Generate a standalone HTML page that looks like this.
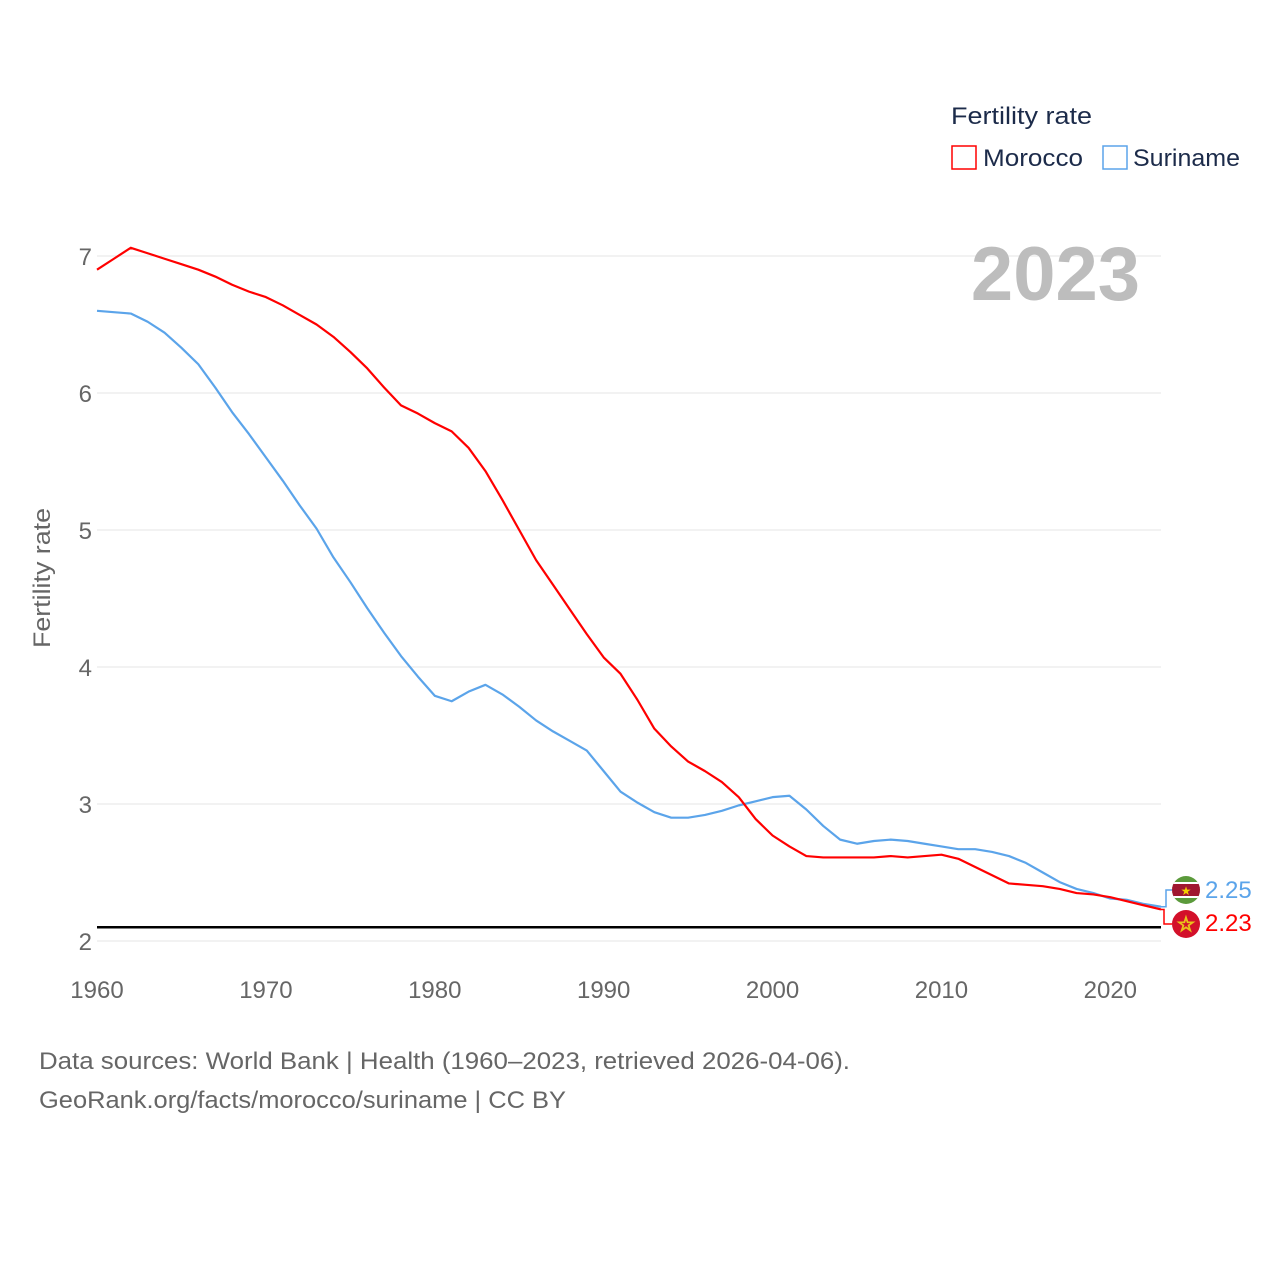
<!DOCTYPE html>
<html><head><meta charset="utf-8"><style>
body{margin:0;background:#fff;font-family:"Liberation Sans",sans-serif;}
svg text{font-family:"Liberation Sans",sans-serif;}
</style></head><body>
<svg width="1280" height="1280" xmlns="http://www.w3.org/2000/svg">
<g id="grid"></g>
<g id="yticks"></g>
<g id="xticks"></g>
<text x="50" y="578" font-size="24" fill="#666" text-anchor="middle" textLength="140" lengthAdjust="spacingAndGlyphs" transform="rotate(-90 50 578)">Fertility rate</text>
<text x="1140" y="300" font-size="76" font-weight="bold" fill="#bdbdbd" text-anchor="end">2023</text>
<g id="series"></g>
<g>
<text x="951" y="124" font-size="24" fill="#1c2b4a" textLength="141" lengthAdjust="spacingAndGlyphs">Fertility rate</text>
<g><rect x="952" y="146" width="24" height="23" fill="none" stroke="#ff0000" stroke-width="1.5"/><text x="983" y="166" font-size="24" fill="#1c2b4a" textLength="100" lengthAdjust="spacingAndGlyphs">Morocco</text></g>
<g><rect x="1103" y="146" width="24" height="23" fill="none" stroke="#5ba4ea" stroke-width="1.5"/><text x="1133" y="166" font-size="24" fill="#1c2b4a" textLength="107" lengthAdjust="spacingAndGlyphs">Suriname</text></g>
</g>
<g id="endlabels"></g>
<text x="39" y="1069" font-size="24" fill="#666" textLength="811" lengthAdjust="spacingAndGlyphs">Data sources: World Bank | Health (1960–2023, retrieved 2026-04-06).</text>
<text x="39" y="1108" font-size="24" fill="#666" textLength="527" lengthAdjust="spacingAndGlyphs">GeoRank.org/facts/morocco/suriname | CC BY</text>
</svg>
<script>
const years=[];for(let y=1960;y<=2023;y++)years.push(y);
const morocco=[6.9,6.98,7.06,7.02,6.98,6.94,6.9,6.85,6.79,6.74,6.7,6.64,6.57,6.5,6.41,6.3,6.18,6.04,5.91,5.85,5.78,5.72,5.6,5.43,5.22,5.0,4.78,4.6,4.42,4.24,4.07,3.95,3.76,3.55,3.42,3.31,3.24,3.16,3.05,2.89,2.77,2.69,2.62,2.61,2.61,2.61,2.61,2.62,2.61,2.62,2.63,2.6,2.54,2.48,2.42,2.41,2.4,2.38,2.35,2.34,2.32,2.29,2.26,2.23];
const suriname=[6.6,6.59,6.58,6.52,6.44,6.33,6.21,6.04,5.86,5.7,5.53,5.36,5.18,5.01,4.8,4.62,4.43,4.25,4.08,3.93,3.79,3.75,3.82,3.87,3.8,3.71,3.61,3.53,3.46,3.39,3.24,3.09,3.01,2.94,2.9,2.9,2.92,2.95,2.99,3.02,3.05,3.06,2.96,2.84,2.74,2.71,2.73,2.74,2.73,2.71,2.69,2.67,2.67,2.65,2.62,2.57,2.5,2.43,2.38,2.35,2.31,2.3,2.27,2.25];
const yTicks=[2,3,4,5,6,7];
const xTicks=[1960,1970,1980,1990,2000,2010,2020];
const refLine=2.1;
const NS="http://www.w3.org/2000/svg";
const X=v=>97+(v-1960)*(1161-97)/63;
const Y=v=>941-(v-2)*137;
function mk(tag,attrs,parent,txt){const e=document.createElementNS(NS,tag);for(const k in attrs)e.setAttribute(k,attrs[k]);if(txt!==undefined)e.textContent=txt;parent.appendChild(e);return e;}
const grid=document.getElementById('grid'),yt=document.getElementById('yticks'),xt=document.getElementById('xticks');
yTicks.forEach(t=>{
 const l=mk('line',{x1:97,x2:1161,y1:Y(t),y2:Y(t),stroke:'#e6e6e6','stroke-width':1},grid);
 
 
 const tx=mk('text',{x:92,y:Y(t)+9,'font-size':24,fill:'#666','text-anchor':'end'},yt,String(t));
 
 
});
xTicks.forEach(t=>{
 const tx=mk('text',{x:X(t),y:998,'font-size':24,fill:'#666','text-anchor':'middle'},xt,String(t));
 
 
});
const s=document.getElementById('series');
const ref=mk('line',{x1:97,x2:1161,y1:Y(refLine),y2:Y(refLine),stroke:'#000','stroke-width':2.5},s);


function line(data,color,name){
 const p=mk('polyline',{points:data.map((v,i)=>X(years[i])+','+Y(v)).join(' '),fill:'none',stroke:color,'stroke-width':2.2,'stroke-linejoin':'round'},s);
 
 
}
line(suriname,'#5ba4ea','suriname-line');
line(morocco,'#ff0000','morocco-line');
const e=document.getElementById('endlabels');
const ls=suriname[suriname.length-1],lm=morocco[morocco.length-1];
const c1=mk('path',{d:`M1161 ${Y(ls)} H1166 V890 H1172`,fill:'none',stroke:'#5ba4ea','stroke-width':1.5},e);

const c2=mk('path',{d:`M1161 ${Y(lm)} H1164 V924 H1172`,fill:'none',stroke:'#ff0000','stroke-width':1.5},e);

const fs=mk('g',{},e);
const cp=mk('clipPath',{id:'cs'},fs);
mk('circle',{cx:1186,cy:890,r:14},cp);
const gs=mk('g',{'clip-path':'url(#cs)'},fs);
mk('rect',{x:1172,y:876,width:28,height:28,fill:'#5b9a3b'},gs);
mk('rect',{x:1172,y:882,width:28,height:16,fill:'#fff'},gs);
mk('rect',{x:1172,y:884,width:28,height:12,fill:'#a01830'},gs);
mk('text',{x:1186,y:895,'font-size':12,fill:'#f5d000','text-anchor':'middle'},gs,'★');
const fm=mk('g',{},e);
mk('circle',{cx:1186,cy:924,r:14,fill:'#d3102a'},fm);
mk('text',{x:1186,y:931,'font-size':20,fill:'none',stroke:'#e9c21b','stroke-width':1.2,'text-anchor':'middle'},fm,'☆');
const t1=mk('text',{x:1205,y:898,'font-size':24,fill:'#5ba4ea'},e,ls.toFixed(2));

const t2=mk('text',{x:1205,y:931,'font-size':24,fill:'#ff0000'},e,lm.toFixed(2));

</script>
</body></html>
